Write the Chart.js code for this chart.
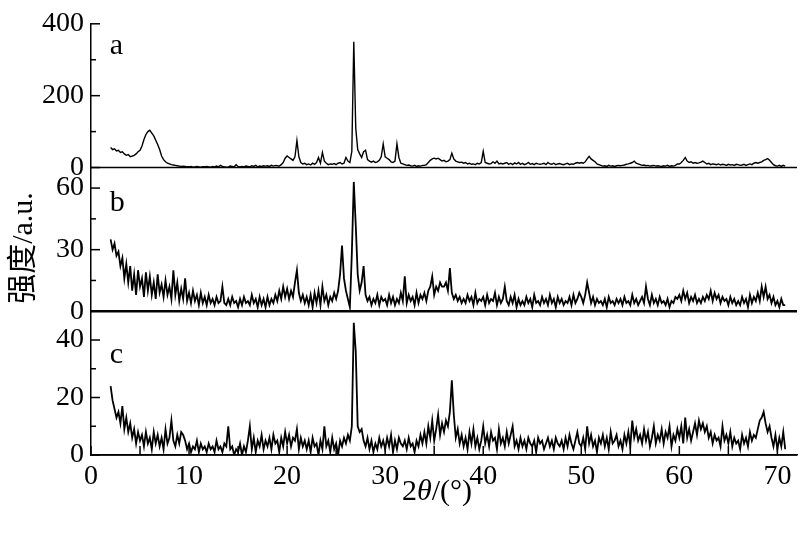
<!DOCTYPE html>
<html><head><meta charset="utf-8">
<script src="https://cdn.jsdelivr.net/npm/chart.js@4.4.1/dist/chart.umd.min.js"></script>
<style>html,body{margin:0;padding:0;background:#fff}#wrap{width:800px;height:535px;position:relative}</style>
</head><body><div id="wrap"><canvas id="c" width="800" height="535"></canvas></div>
<script>
// 2θ sampling: first angle and spacing of the read-off points (degrees)
const twoThetaStart = 2.0;
const twoThetaStep = 0.2;

// Intensity, one row = 2 degrees (10 points)
const seriesA = [
 56,50,52,46,48,42,44,38,34,36,
 30,32,34,38,44,48,60,78,92,100,
 104,96,88,76,64,50,32,22,16,12,
 10,8,7,6,5,4,3,4,3,2,
 2,3,1,2,3,2,1,2,2,3,
 2,1,3,2,4,2,6,3,2,1,
 2,4,3,2,8,3,2,3,2,4,
 3,2,5,3,6,2,4,3,5,4,
 5,3,6,4,6,5,4,8,14,26,
 32,28,24,20,30,75,30,14,10,12,
 8,10,7,12,9,14,28,12,42,18,
 12,8,10,9,11,8,12,14,10,12,
 28,18,14,45,350,110,50,38,28,44,
 48,22,18,15,18,14,16,20,30,66,
 30,26,22,16,14,18,66,28,12,10,
 8,6,7,5,4,6,3,5,4,6,
 6,8,14,20,24,26,24,26,22,18,
 20,16,18,22,40,24,18,16,14,15,
 12,14,10,12,9,10,8,12,10,14,
 45,14,12,10,11,16,12,18,10,12,
 10,12,14,9,12,8,13,10,14,9,
 12,8,10,14,9,11,8,12,10,9,
 10,12,8,14,10,9,12,8,10,11,
 9,8,10,12,8,10,9,12,14,12,
 14,12,16,24,31,24,20,16,10,8,
 6,4,5,3,6,4,5,3,5,6,
 5,6,7,9,10,12,14,18,12,10,
 8,6,7,5,6,4,5,6,4,5,
 4,3,5,4,6,3,5,4,6,10,
 10,14,20,28,18,14,16,12,14,12,
 13,15,18,14,10,12,8,10,9,8,
 10,7,9,8,6,9,7,8,6,9,
 8,6,7,9,6,8,10,8,12,14,
 12,14,16,20,22,25,20,14,8,5,
 4,6,3,6,4
];
const seriesB = [
 35,30,33,27,29,22,26,16,23,14,
 22,10,18,8,20,12,16,7,19,10,
 17,8,14,6,18,9,13,7,15,8,
 12,6,20,8,14,5,11,6,16,5,
 9,4,10,5,8,3,9,4,7,3,
 8,4,6,3,7,4,5,12,4,3,
 6,3,7,4,5,2,6,3,7,4,
 5,3,8,4,6,2,7,3,6,2,
 7,3,6,4,8,5,10,6,12,7,
 11,6,10,7,14,20,9,5,8,4,
 7,3,8,2,9,4,10,3,12,5,
 8,3,7,5,9,6,10,18,32,16,
 10,6,2,28,63,42,18,10,14,22,
 8,5,7,3,6,4,8,3,7,5,
 6,3,8,4,7,3,6,4,9,5,
 17,4,8,5,7,3,9,4,8,6,
 9,5,10,12,17,8,12,10,14,12,
 12,14,10,21,9,6,8,5,7,4,
 6,4,8,5,7,3,9,4,6,5,
 7,3,8,4,6,5,9,3,7,4,
 6,12,5,3,7,4,8,2,6,3,
 5,3,7,4,6,2,8,4,5,3,
 7,4,6,3,8,4,6,2,7,4,
 6,3,5,4,7,3,8,4,6,9,
 7,4,8,14,9,4,7,3,6,4,
 5,3,6,2,7,4,5,3,6,4,
 6,3,7,4,5,3,8,4,6,3,
 5,7,4,12,6,3,8,4,6,3,
 7,4,5,3,6,2,5,4,7,6,
 8,5,10,6,9,4,7,5,8,4,
 6,4,7,5,8,6,10,5,9,6,
 8,4,7,5,6,3,7,4,6,3,
 5,3,7,4,6,2,8,4,7,5,
 9,5,12,7,12,6,8,4,7,3,
 5,2,6,3,3
];
const seriesC = [
 24,19,16,13,15,11,17,9,13,8,
 11,6,9,4,8,5,7,3,8,4,
 6,2,8,4,7,3,6,2,9,4,
 6,12,5,3,7,4,8,7,5,2,
 4,1,3,2,5,1,4,2,3,1,
 4,2,3,1,5,2,3,1,4,3,
 10,2,3,0,2,1,4,0,3,1,
 5,10,2,6,1,5,3,7,2,5,
 3,6,2,7,4,5,1,6,3,8,
 4,7,3,6,5,9,2,6,3,5,
 2,5,1,6,3,4,0,5,2,10,
 3,5,1,6,2,4,0,5,3,6,
 4,7,5,10,46,36,10,8,9,5,
 3,6,2,5,1,4,2,6,3,5,
 2,6,3,7,1,5,2,6,4,3,
 5,2,6,3,4,1,5,3,7,4,
 8,4,10,6,12,5,9,14,7,11,
 8,12,10,15,26,14,6,9,4,7,
 3,6,2,8,4,9,3,6,2,5,
 10,4,7,3,8,5,6,2,9,4,
 6,3,8,4,7,10,3,5,2,6,
 3,5,2,6,4,3,5,1,6,4,
 5,2,4,6,3,5,2,6,4,3,
 5,2,6,3,7,4,2,5,8,4,
 3,6,2,10,4,7,3,5,1,6,
 4,7,3,6,2,8,4,5,7,3,
 5,2,7,4,8,3,12,6,9,5,
 7,4,9,5,8,3,6,10,4,7,
 5,9,4,8,6,10,3,7,5,9,
 6,10,4,13,6,9,5,8,11,7,
 12,9,11,8,10,6,8,4,7,5,
 6,3,10,5,7,4,8,3,6,4,
 5,2,7,4,6,3,8,5,7,6,
 9,12,13,15,11,8,10,6,3,7,
 2,6,3,8,2
];

const panelLabels = ['a', 'b', 'c'];
const xTicks = [0, 10, 20, 30, 40, 50, 60, 70];
const xMinorTicks = [5, 15, 25, 35, 45, 55, 65];
const aTicks = [0, 200, 400], aMinor = [100, 300];
const bTicks = [0, 30, 60],   bMinor = [15, 45];
const cTicks = [0, 20, 40],   cMinor = [10, 30];
const yTitle = '强度/a.u.';
const xTitleParts = ['2', 'θ', '/(°)'];

const SERIF = "'Liberation Serif', 'Times New Roman', 'Noto Sans CJK SC', serif";

function toPoints(arr) {
  return arr.map((v, i) => ({ x: +(twoThetaStart + i * twoThetaStep).toFixed(2), y: v }));
}

function yScale(min, max, ticks, weight) {
  return {
    type: 'linear', position: 'left', stack: 'xrd', stackWeight: 1, weight: weight,
    min: min, max: max,
    afterBuildTicks: s => { s.ticks = ticks.map(v => ({ value: v })); },
    afterFit: s => { s.width = 91; },
    grid: { display: false, drawTicks: false },
    border: { display: true, color: '#000', width: 1.5 },
    ticks: { color: '#000', padding: 7, font: { family: SERIF, size: 28 } }
  };
}

const decor = {
  id: 'decor',
  afterDraw(chart) {
    const { ctx, chartArea: ca, scales } = chart;
    ctx.save();
    ctx.strokeStyle = '#000';
    // panel baselines
    [['yA', 1.5], ['yB', 2.5], ['yC', 1.5]].forEach(([id, w]) => {
      const y = scales[id].getPixelForValue(0);
      ctx.lineWidth = w;
      ctx.beginPath(); ctx.moveTo(ca.left, y); ctx.lineTo(ca.right, y); ctx.stroke();
    });
    // inward y ticks
    ctx.lineWidth = 1.5;
    [['yA', aTicks, aMinor], ['yB', bTicks, bMinor], ['yC', cTicks, cMinor]].forEach(([id, maj, min]) => {
      const s = scales[id];
      maj.forEach(v => { const y = s.getPixelForValue(v); ctx.beginPath(); ctx.moveTo(ca.left, y); ctx.lineTo(ca.left + 9, y); ctx.stroke(); });
      min.forEach(v => { const y = s.getPixelForValue(v); ctx.beginPath(); ctx.moveTo(ca.left, y); ctx.lineTo(ca.left + 5, y); ctx.stroke(); });
    });
    // inward x ticks
    xTicks.concat(xMinorTicks).forEach(v => {
      const x = scales.x.getPixelForValue(v);
      ctx.beginPath(); ctx.moveTo(x, ca.bottom); ctx.lineTo(x, ca.bottom - 9); ctx.stroke();
    });
    // panel letters
    ctx.fillStyle = '#000';
    ctx.font = '30px ' + SERIF;
    ctx.textBaseline = 'alphabetic';
    ctx.textAlign = 'left';
    const letterPos = [['yA', 315], ['yB', 49], ['yC', 32]];
    panelLabels.forEach((t, i) => {
      const [id, v] = letterPos[i];
      ctx.fillText(t, scales.x.getPixelForValue(1.9), scales[id].getPixelForValue(v));
    });
    // x title with italic theta
    const fonts = ['30px ' + SERIF, 'italic 30px ' + SERIF, '30px ' + SERIF];
    let total = 0;
    const widths = xTitleParts.map((p, i) => { ctx.font = fonts[i]; const w = ctx.measureText(p).width; total += w; return w; });
    let x = 437 - total / 2;
    xTitleParts.forEach((p, i) => { ctx.font = fonts[i]; ctx.fillText(p, x, 500); x += widths[i]; });
    // y title
    ctx.save();
    ctx.translate(24, 248);
    ctx.rotate(-Math.PI / 2);
    ctx.textAlign = 'center';
    ctx.textBaseline = 'middle';
    ctx.font = '30px ' + SERIF;
    ctx.fillText(yTitle, 0, 0);
    ctx.restore();
    ctx.restore();
  }
};

const lineStyle = { borderColor: '#000', pointRadius: 0, tension: 0, fill: false };

new Chart(document.getElementById('c'), {
  type: 'line',
  data: {
    datasets: [
      Object.assign({ label: 'a', data: toPoints(seriesA), yAxisID: 'yA', borderWidth: 1.4 }, lineStyle),
      Object.assign({ label: 'b', data: toPoints(seriesB), yAxisID: 'yB', borderWidth: 1.8 }, lineStyle),
      Object.assign({ label: 'c', data: toPoints(seriesC), yAxisID: 'yC', borderWidth: 1.8 }, lineStyle)
    ]
  },
  options: {
    responsive: false, animation: false, devicePixelRatio: 1,
    layout: { padding: { top: 17, right: 3, left: 0, bottom: 0 } },
    plugins: { legend: { display: false }, tooltip: { enabled: false } },
    scales: {
      x: {
        type: 'linear', position: 'bottom', min: 0, max: 72,
        afterBuildTicks: s => { s.ticks = xTicks.map(v => ({ value: v })); },
        afterFit: s => { s.height = 80; },
        grid: { display: false, drawTicks: false },
        border: { display: true, color: '#000', width: 1.5 },
        ticks: { color: '#000', padding: 5, autoSkip: false, maxRotation: 0, font: { family: SERIF, size: 28 } }
      },
      yA: yScale(0, 400, aTicks, 3),
      yB: yScale(0, 70, bTicks, 2),
      yC: yScale(0, 50, cTicks, 1)
    }
  },
  plugins: [decor]
});
</script>
</body></html>
